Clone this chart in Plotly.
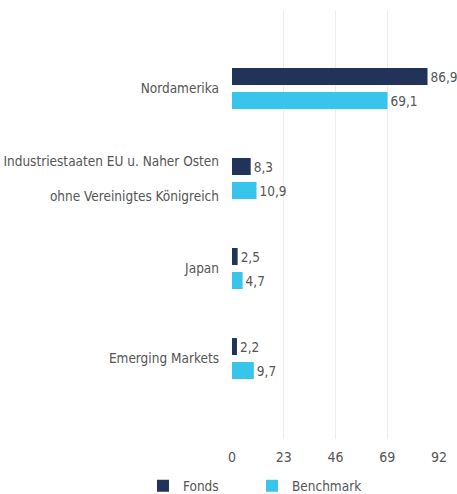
import plotly.graph_objects as go

categories = ["Nordamerika",
              "Industriestaaten EU u. Naher Osten<br><br>ohne Vereinigtes Königreich",
              "Japan",
              "Emerging Markets"]
fonds = [86.9, 8.3, 2.5, 2.2]
benchmark = [69.1, 10.9, 4.7, 9.7]
x_ticks = [0, 23, 46, 69, 92]

FONT = "DejaVu Sans Condensed"
GREY = "#555555"

fig = go.Figure()
fig.add_trace(go.Bar(
    y=categories, x=fonds, name="Fonds", orientation="h",
    marker=dict(color="#22335a", line=dict(width=0)),
    texttemplate="%{x:.1f}", textposition="outside",
    textfont=dict(family=FONT, size=13.5, color=GREY),
    cliponaxis=False,
))
fig.add_trace(go.Bar(
    y=categories, x=benchmark, name="Benchmark", orientation="h",
    marker=dict(color="#38c5ec", line=dict(width=0)),
    texttemplate="%{x:.1f}", textposition="outside",
    textfont=dict(family=FONT, size=13.5, color=GREY),
    cliponaxis=False,
))

fig.update_layout(
    template="none",
    width=457, height=494,
    margin=dict(l=232, r=18, t=11, b=55, autoexpand=False),
    paper_bgcolor="white", plot_bgcolor="white",
    barmode="group", bargap=0.4667, bargroupgap=0.2917,
    separators=", ",
    font=dict(family=FONT, size=13, color=GREY),
    showlegend=True,
    legend=dict(orientation="h", x=-0.43, y=-0.11, xanchor="left", yanchor="middle",
                font=dict(family=FONT, size=13.5, color=GREY),
                traceorder="normal", itemwidth=30,
                entrywidth=64, entrywidthmode="pixels"),
    xaxis=dict(range=[0, 92], tickvals=x_ticks, showgrid=True, gridcolor="#ececec",
               gridwidth=1, zeroline=False, showline=False, ticks="", automargin=False,
               ticklabelstandoff=8,
               tickfont=dict(family=FONT, size=14, color=GREY)),
    yaxis=dict(categoryorder="array", categoryarray=categories, automargin=False,
               range=[3.894, -0.861], showgrid=False, zeroline=False, showline=False,
               ticks="", ticklabelstandoff=12,
               tickfont=dict(family=FONT, size=13.5, color=GREY)),
)

fig.write_html("out.html", config={"displayModeBar": False},
               post_script="document.body.style.margin='0';")
